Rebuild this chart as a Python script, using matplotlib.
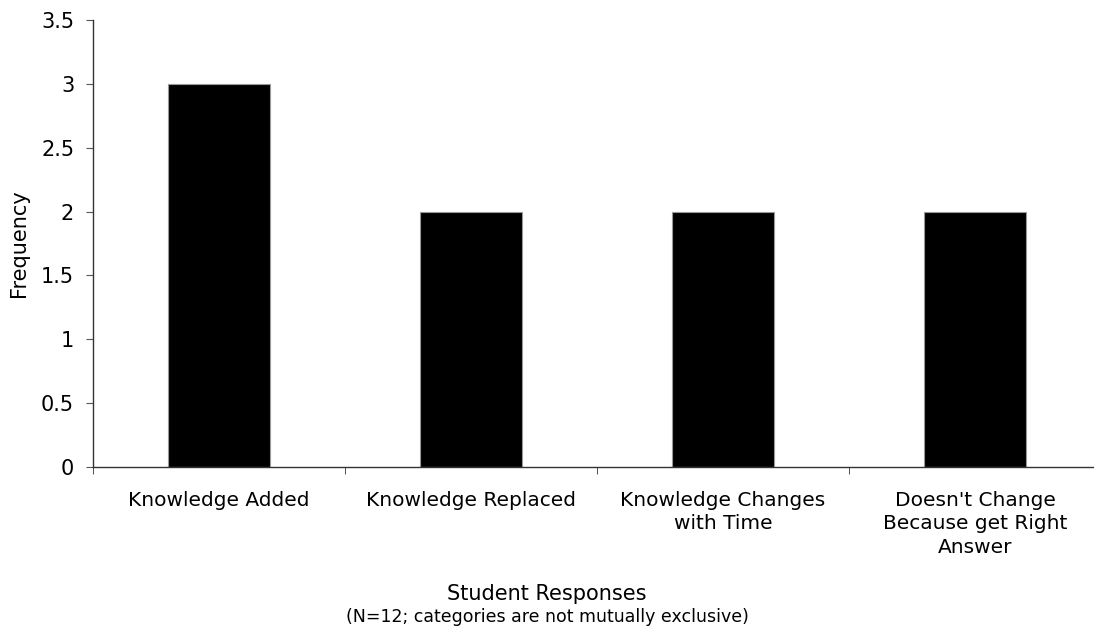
import matplotlib
matplotlib.use("Agg")
import matplotlib.pyplot as plt
import numpy as np

categories = [
    "Knowledge Added",
    "Knowledge Replaced",
    "Knowledge Changes\nwith Time",
    "Doesn't Change\nBecause get Right\nAnswer",
]
frequency = [3, 2, 2, 2]
y_ticks = [0, 0.5, 1, 1.5, 2, 2.5, 3, 3.5]
y_tick_labels = ["0", "0.5", "1", "1.5", "2", "2.5", "3", "3.5"]

plt.rcParams["font.family"] = ["DejaVu Sans"]

fig = plt.figure(figsize=(10.94, 6.34), dpi=100)
ax = fig.add_axes([93 / 1094, 1 - 467 / 634, 1008 / 1094, 447 / 634])

x = np.arange(len(categories))
ax.bar(x, frequency, width=0.405, color="black", edgecolor="#999999", linewidth=0.8)

ax.set_xlim(-0.5, len(categories) - 0.5)
ax.set_ylim(0, 3.5)
ax.set_yticks(y_ticks)
ax.set_yticklabels(y_tick_labels, fontsize=15)
ax.set_xticks(x)
ax.set_xticklabels(categories, fontsize=14.5, linespacing=1.32, va="top")
ax.tick_params(axis="x", length=0, pad=17)
ax.set_xticks(np.arange(len(categories) + 1) - 0.5, minor=True)
ax.tick_params(axis="x", which="minor", length=5, direction="out", color="#333333")
ax.tick_params(axis="y", length=5, direction="out", color="#555555", pad=8.5)

for side in ["top", "right"]:
    ax.spines[side].set_visible(False)
for side in ["left", "bottom"]:
    ax.spines[side].set_color("#333333")
    ax.spines[side].set_linewidth(1.0)

ax.set_ylabel("Frequency", fontsize=15)
ax.yaxis.set_label_coords(-64 / 1008, 0.5)
fig.text(0.5, 1 - 594 / 634, "Student Responses", ha="center", va="center", fontsize=15)
fig.text(0.5, 1 - 617 / 634, "(N=12; categories are not mutually exclusive)",
         ha="center", va="center", fontsize=12.5)

fig.savefig("out.png", dpi=100)
plt.close(fig)
